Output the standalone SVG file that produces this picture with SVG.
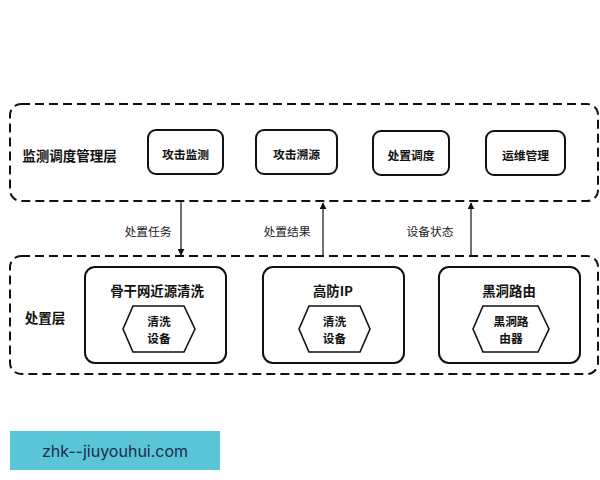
<svg xmlns="http://www.w3.org/2000/svg" width="600" height="480" viewBox="0 0 600 480">
<defs>
<style>
.layer{fill:none;stroke:#111;stroke-width:2;stroke-dasharray:9 5}
.box{fill:#fff;stroke:#111;stroke-width:2}
.hex{fill:#fff;stroke:#111;stroke-width:1.6}
.t{font-family:"Noto Sans CJK SC","Noto Sans",sans-serif;font-weight:bold;fill:#111;text-anchor:middle;dominant-baseline:central}
.h{font-size:11.7px}
.e{font-family:"Noto Sans CJK SC","Noto Sans",sans-serif;fill:#222;font-size:11.8px;text-anchor:middle;dominant-baseline:central}
.c{stroke:#111;stroke-width:1.2;fill:none}
</style>
<marker id="ah" viewBox="0 0 10 10" refX="9" refY="5" markerWidth="7" markerHeight="7" orient="auto" markerUnits="userSpaceOnUse"><path d="M0,0 L10,5 L0,10 z" fill="#111"/></marker>
</defs>
<rect width="600" height="480" fill="#fff"/>
<g id="layer-top">
<rect class="layer" x="10" y="104" width="588" height="97" rx="11"/>
<text class="t" x="69.5" y="155" font-size="13.5">监测调度管理层</text>
</g>
<g id="layer-bottom">
<rect class="layer" x="10" y="256" width="588" height="118" rx="11"/>
<text class="t" x="45" y="317" font-size="13.5">处置层</text>
</g>
<g id="n1"><rect class="box" x="148" y="130" width="75" height="44" rx="8"/><text class="t" x="185.5" y="153" font-size="11.8">攻击监测</text></g>
<g id="n2"><rect class="box" x="256" y="130" width="81" height="44" rx="8"/><text class="t" x="296.5" y="153" font-size="11.8">攻击溯源</text></g>
<g id="n3"><rect class="box" x="373" y="131" width="76" height="44" rx="8"/><text class="t" x="411" y="154" font-size="11.8">处置调度</text></g>
<g id="n4"><rect class="box" x="486" y="131" width="79" height="44" rx="8"/><text class="t" x="525.5" y="154" font-size="11.8">运维管理</text></g>
<g id="n5"><rect class="box" x="85" y="267" width="141" height="96" rx="10"/><text class="t" x="157" y="290" font-size="13.4">骨干网近源清洗</text>
<polygon class="hex" points="123,329 133,306 184,306 195,329 184,352 133,352"/>
<text class="t h" x="159" y="320.5">清洗</text><text class="t h" x="159" y="337.7">设备</text></g>
<g id="n6"><rect class="box" x="263" y="267" width="141" height="96" rx="10"/><text class="t" x="333" y="290" font-size="13.4">高防IP</text>
<polygon class="hex" points="299,329 309,306 360,306 370,329 360,352 309,352"/>
<text class="t h" x="334.5" y="320.5">清洗</text><text class="t h" x="334.5" y="337.7">设备</text></g>
<g id="n7"><rect class="box" x="439" y="267" width="141" height="96" rx="10"/><text class="t" x="509" y="290" font-size="13.4">黑洞路由</text>
<polygon class="hex" points="473,329 483,306 538,306 549,329 538,352 483,352"/>
<text class="t h" x="511" y="320.5">黑洞路</text><text class="t h" x="511" y="337.7">由器</text></g>
<g id="connectors">
<line class="c" x1="181" y1="202" x2="181" y2="255" marker-end="url(#ah)"/>
<line class="c" x1="323" y1="256" x2="323" y2="203" marker-end="url(#ah)"/>
<line class="c" x1="471" y1="256" x2="471" y2="203" marker-end="url(#ah)"/>
<text class="e" x="148" y="230">处置任务</text>
<text class="e" x="287" y="230">处置结果</text>
<text class="e" x="430" y="230">设备状态</text>
</g>
<g id="watermark">
<rect x="10" y="431" width="210" height="39" fill="#5bc5d8"/>
<text x="115" y="451" font-family="Inter,'Noto Sans',sans-serif" font-size="16" fill="#1d2a4a" text-anchor="middle" dominant-baseline="central">zhk--jiuyouhui.com</text>
</g>
</svg>
